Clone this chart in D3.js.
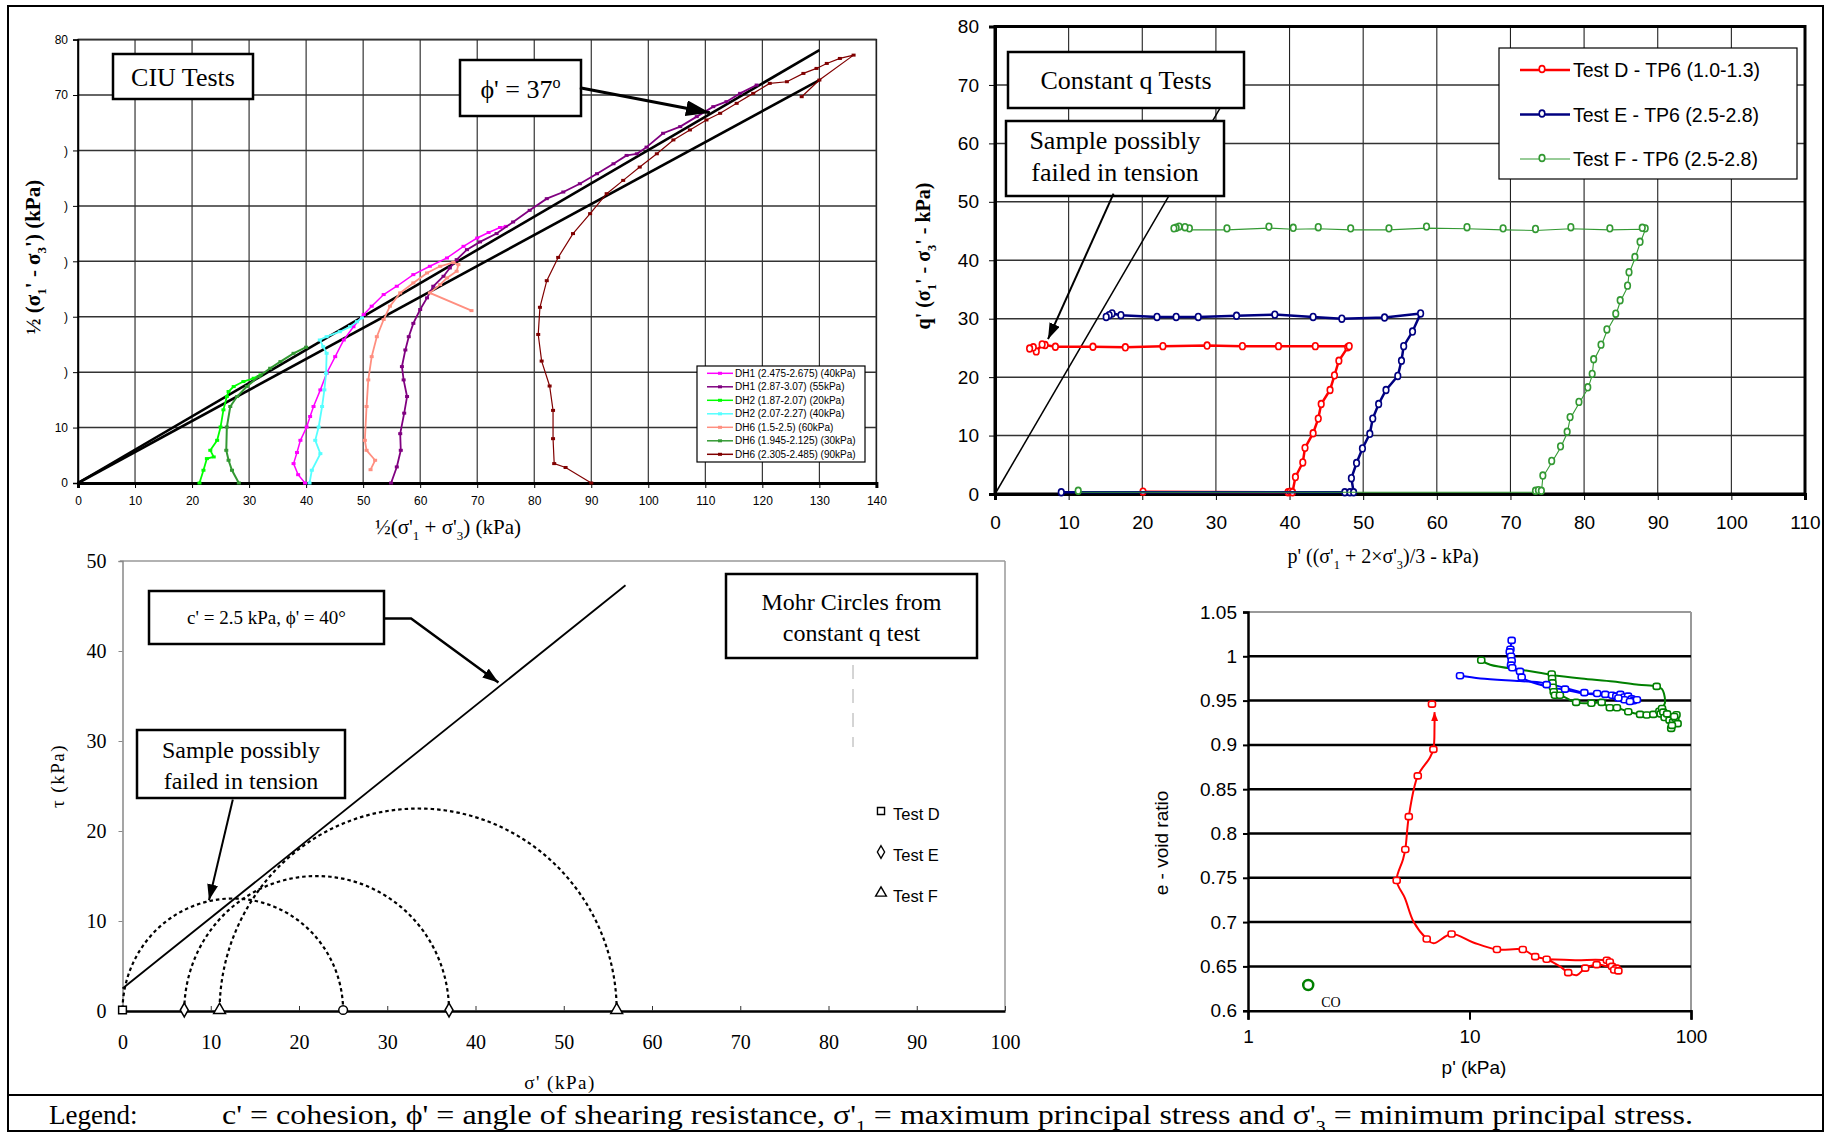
<!DOCTYPE html>
<html><head><meta charset="utf-8">
<script src="https://cdn.jsdelivr.net/npm/d3@7"></script>
<style>body{margin:0;background:#fff}</style>
</head><body>
<svg id="c" width="1830" height="1138"></svg>
<script>
// ===================== DATA =====================
// Panel A: CIU tests (p = ½(σ'1+σ'3), q = ½(σ'1-σ'3))
const ciuXTicks = [0,10,20,30,40,50,60,70,80,90,100,110,120,130,140];
const ciuYTicks = [0,10,20,30,40,50,60,70,80];
const ciuYLabels = ["0","10",")",")",")",")",")","70","80"];
const ciuNames = ["DH1 (2.475-2.675) (40kPa)","DH1 (2.87-3.07) (55kPa)","DH2 (1.87-2.07) (20kPa)","DH2 (2.07-2.27) (40kPa)","DH6 (1.5-2.5) (60kPa)","DH6 (1.945-2.125) (30kPa)","DH6 (2.305-2.485) (90kPa)"];
const dh1_40 = [[39.8,0],[38.6,1.5],[37.8,3.5],[38.4,5.5],[39,7.7],[40.1,10.1],[40.7,12],[41.3,13.8],[42.5,16.8],[43.6,19.8],[45.1,22.8],[46.6,25.8],[48.3,28.2],[50.1,30.4],[51.5,31.9],[53.6,34],[55.9,35.5],[58.8,37.6],[61.7,39.1],[64.7,40.6],[67.6,42.7],[70,44.2],[72,45.2],[74,46.1],[75,46.3]];
const dh1_55 = [[54.9,0],[55.9,2.9],[56.6,5.9],[56.5,8.9],[57.2,12.6],[57.7,15.6],[57.1,18.6],[56.8,21],[57.4,24],[58,26.4],[58.8,28.8],[60,31.3],[61.2,33.4],[62.3,35.5],[64.1,37.3],[65.2,38.8],[66.4,40.3],[68.2,42.1],[70.5,43.5],[73.4,45],[76.3,47.1],[79.2,49.2],[82.2,51.3],[85.1,52.5],[88,54],[91,55.8],[93.9,57.6],[96.2,59.1],[98,59.4],[99.7,60.6],[102.6,63.1],[105.6,64.3],[108.5,66.1],[111.4,67.9],[113.7,68.8],[116.1,70.3],[119,71.8]];
const dh2_20 = [[21.3,0],[22,2.3],[22.6,4.4],[23.8,4.7],[23.2,5.9],[24.4,7.7],[25,10.1],[25.5,13.2],[26.1,15.6],[26.4,16.5],[27.3,17.4],[29,18.3],[30.8,18.9],[32,19.5]];
const dh2_40 = [[40.6,0],[41,2.3],[42.5,5.3],[41.6,7.7],[42.2,10.1],[42.8,13.8],[43.2,16.8],[43.5,19.8],[43.6,23.4],[43,24.6],[42.4,25.8],[43.6,26.4],[45.9,27.3],[47.7,28.2],[48.9,29.1],[49.8,29.8]];
const dh6_60 = [[51.3,2.4],[52.1,4.1],[50.6,5.9],[50.3,7.7],[50.6,13.8],[50.9,18.6],[51.5,22.8],[52.4,26.4],[53.6,29.5],[54.7,31.9],[56.5,34.3],[58.8,36.1],[61.2,37.9],[63.5,39.1],[65.8,39.8],[66.7,39.4],[66.4,38.2],[64.7,37],[63.5,35.8],[61.7,34.3],[69,31.1]];
const dh6_30 = [[28.2,0],[27,2.3],[26.4,4.1],[26,5.9],[26.1,10.1],[26.7,13.8],[27.9,15.6],[29.6,17.4],[31.7,19.2],[33.7,20.7],[35.5,21.9],[37.8,23.4],[40,24.5]];
const dh6_90 = [[90,0],[85.5,2.8],[83.5,3.5],[83.3,8],[83.3,13.1],[82.7,17.5],[81.3,22],[80.7,26.8],[81,31.7],[82.2,36.5],[84.2,40.7],[86.8,45],[89.8,48.6],[92.7,52.2],[95.6,54.6],[98.5,57],[101.5,59.4],[104.4,61.9],[107.3,63.7],[110.2,65.5],[112.6,66.7],[115.5,68.5],[118.4,70.3],[121.3,72.1],[124.3,72.4],[127.2,73.9],[129.5,74.8],[131.3,75.7],[133.6,76.6],[136,77.2],[130,72.7],[126.9,69.7]];
const ciuUpperLine = [[0,0],[130,78.1]];
const ciuLowerLine = [[0,0],[130,72.7]];
const ciuArrow = [[88,71.3],[110.8,66.8]];

// Panel B: constant q tests (p', q')
const cqXTicks = [0,10,20,30,40,50,60,70,80,90,100,110];
const cqYTicks = [0,10,20,30,40,50,60,70,80];
const cqNames = ["Test D - TP6 (1.0-1.3)","Test E - TP6 (2.5-2.8)","Test F - TP6 (2.5-2.8)"];
const testD_q = [[20.1,0.4],[39.8,0.3],[40.1,0.4],[40.4,0.3],[40.8,2.9],[41.8,5.4],[42.1,7.9],[43.2,10.4],[43.9,12.9],[44.3,15.4],[45.5,17.8],[46.1,20.3],[46.7,22.8],[47.9,25.1],[48.1,25.3],[43.5,25.3],[38.5,25.3],[33.6,25.3],[28.8,25.4],[22.8,25.3],[17.7,25.1],[13.3,25.2],[8.2,25.2],[6.8,25.5],[6.4,25.6],[5.6,24.4],[5.2,25.1],[4.7,24.9]];
const testE_q = [[9,0.3],[47.5,0.3],[48.2,0.3],[48.7,0.3],[48.4,2.7],[49.1,5.3],[49.9,7.8],[50.9,10.3],[51.3,12.9],[52.1,15.4],[53.1,17.8],[54.7,20.2],[55.2,22.8],[55.5,25.3],[56.7,27.8],[57.8,30.9],[52.9,30.2],[47.1,30],[43.2,30.3],[38,30.7],[32.8,30.5],[27.6,30.3],[24.6,30.3],[22,30.3],[17.1,30.6],[15.9,30.9],[15.5,30.6],[15.1,30.3]];
const testF_q = [[11.3,0.3],[73.4,0.3],[73.8,0.4],[74.2,0.3],[74.4,2.9],[75.6,5.4],[76.8,7.9],[77.7,10.4],[78.1,12.9],[79.3,15.5],[80.5,18],[81.1,20.3],[81.3,22.8],[82.3,25.3],[83.1,27.9],[84.3,30.6],[84.9,32.9],[85.9,35.4],[86.1,37.7],[86.9,40.3],[87.6,42.9],[88.3,45.2],[87.9,45.3],[83.5,45.2],[78.2,45.4],[73.4,45.1],[69,45.2],[64.1,45.4],[58.6,45.5],[53.5,45.2],[48.3,45.2],[43.9,45.4],[40.5,45.3],[37.2,45.5],[31.5,45.2],[26.4,45.2],[25.8,45.4],[25,45.5],[24.6,45.3],[24.3,45.2]];
const cqTensionLine = [[0,0],[33,71.3]];
const cqArrow = [[16.1,51.4],[7.2,26.5]];

// Panel C: Mohr circles (σ', τ)
const mohrXTicks = [0,10,20,30,40,50,60,70,80,90,100];
const mohrYTicks = [0,10,20,30,40,50];
const mohrTests = ["Test D","Test E","Test F"];
const mohrSigma3 = [0,7,11];
const mohrSigma1 = [25,37,56];
const mohrEnvelope = [[0,2.5],[57,47.3]];
const mohrArrowC = [[29.7,43.6],[32.7,43.6],[42.6,36.5]];
const mohrArrowT = [[12.5,23.5],[9.8,12.3]];

// Panel D: e - log p'
const pTicks = [1,10,100];
const eTicks = [0.6,0.65,0.7,0.75,0.8,0.85,0.9,0.95,1,1.05];
const eLabels = ["0.6","0.65","0.7","0.75","0.8","0.85","0.9","0.95","1","1.05"];
const testD_e = [[22.3,0.658],[30,0.657],[42.4,0.656],[46.5,0.647],[43,0.649],[41.7,0.650],[37.5,0.652],[33.3,0.648],[30.5,0.640],[27.9,0.643],[25.6,0.650],[22.3,0.658],[19.8,0.661],[17.4,0.669],[13.3,0.669],[10.4,0.677],[8.3,0.6865],[6.87,0.676],[6.41,0.681],[5.6,0.70],[5.11,0.727],[4.69,0.747],[5.0,0.77],[5.13,0.782],[5.32,0.819],[5.84,0.865],[6.6,0.885],[6.87,0.895],[6.95,0.92],[6.95,0.937]];
const testD_eMarks = [[6.77,0.946],[6.87,0.895],[5.84,0.865],[5.32,0.819],[5.13,0.782],[4.69,0.747],[6.41,0.681],[8.3,0.6865],[13.3,0.669],[17.4,0.669],[19.8,0.661],[22.3,0.658],[27.9,0.643],[33.3,0.648],[37.5,0.652],[41.7,0.657],[43,0.655],[44,0.650],[46,0.648],[45,0.646],[47,0.645]];
const testE_eCons = [[9.06,0.978],[11.2,0.975],[16.9,0.972],[21.5,0.970],[27.4,0.964],[33.8,0.958],[41.6,0.956],[49.5,0.955],[57.9,0.951]];
const testE_eShear = [[57,0.951],[53.2,0.9545],[48,0.957],[43.2,0.956],[37.7,0.958],[32.8,0.958],[27.2,0.962],[22.3,0.966],[17.2,0.9765],[16.9,0.983],[15.7,0.985],[15.4,0.9905],[15.3,1.0],[15.3,1.008],[15.5,1.018]];
const testE_eMarks = [[9.06,0.978],[15.5,1.018],[15.3,1.008],[15.2,1.005],[15.4,1.0],[15.5,0.995],[15.4,0.99],[15.6,0.987],[16.9,0.983],[17.2,0.9765],[22.3,0.968],[27,0.963],[33,0.959],[37.7,0.958],[41,0.957],[44,0.956],[46,0.955],[48,0.957],[50,0.954],[52,0.955],[54,0.952],[55,0.950],[57,0.951],[50,0.951],[53,0.949],[47,0.953]];
const testF_eCons = [[11.3,0.9955],[12.4,0.9905],[18,0.984],[23.5,0.979],[32,0.975],[44.6,0.9716],[58,0.968],[70,0.966],[74,0.963],[75.5,0.958],[76.2,0.947],[73.7,0.941]];
const testF_eShear = [[86,0.925],[83.2,0.926],[79,0.932],[72.4,0.934],[67.6,0.9345],[63.1,0.9337],[58.9,0.9345],[52.1,0.9375],[46.3,0.942],[43,0.942],[39.5,0.948],[35.5,0.947],[30.3,0.948],[25.6,0.956],[24.3,0.956],[23.8,0.96],[23.6,0.97],[23.5,0.98]];
const testF_eMarks = [[11.3,0.9955],[70,0.966],[23.5,0.980],[23.6,0.975],[23.7,0.97],[23.8,0.965],[24,0.96],[24.3,0.956],[25.6,0.956],[30.3,0.948],[35.5,0.947],[39.5,0.948],[43,0.942],[46.3,0.942],[52.1,0.9375],[58.9,0.9345],[63.1,0.9337],[67.6,0.9345],[72,0.938],[73,0.935],[74,0.941],[75,0.937],[76,0.931],[78,0.935],[80,0.928],[81.4,0.9186],[83,0.926],[85,0.930],[86,0.934],[87,0.924],[82,0.922],[84,0.932]];
const coPoint = [[1.87,0.629]];

// ===================== DRAWING =====================
const SERIF = '"Liberation Serif","Times New Roman",serif';
const SANS = '"Liberation Sans",Arial,sans-serif';
const svg = d3.select('#c');
const defs = svg.append('defs');
function arrowDef(id, len, wid, color){
  defs.append('marker').attr('id',id).attr('markerUnits','userSpaceOnUse')
    .attr('viewBox',`0 0 ${len} ${wid}`).attr('refX',len).attr('refY',wid/2)
    .attr('markerWidth',len).attr('markerHeight',wid).attr('orient','auto')
    .append('path').attr('d',`M0,0L${len},${wid/2}L0,${wid}Z`).attr('fill',color);
}
arrowDef('ahBig',24,16,'#000');
arrowDef('ahMid',16,11,'#000');
arrowDef('ahRed',9,7,'#f00');

// parts: strings, {s:..} subscript, {p:..} superscript
function rich(sel, parts, fs){
  let shift = 0;
  parts.forEach(p=>{
    const isObj = typeof p === 'object';
    const t = sel.append('tspan').text(isObj ? (p.s ?? p.p) : p);
    if(isObj){
      const d = p.s !== undefined ? fs*0.28 : -fs*0.38;
      t.attr('font-size',fs*0.62).attr('dy',d - shift); shift = d;
    } else if(shift){ t.attr('dy',-shift); shift = 0; }
  });
  return sel;
}
function boxText(g, x, y, w, h, lines, fs, baselines){
  g.append('rect').attr('x',x).attr('y',y).attr('width',w).attr('height',h)
    .attr('fill','#fff').attr('stroke','#000').attr('stroke-width',2.5);
  lines.forEach((l,i)=>{
    const t = g.append('text').attr('x',x+w/2).attr('y',baselines[i]).attr('text-anchor','middle')
      .attr('font-family',SERIF).attr('font-size',fs);
    if(Array.isArray(l)) rich(t,l,fs); else t.text(l);
  });
}

// Outer frame
svg.append('rect').attr('x',8).attr('y',6).attr('width',1815).attr('height',1125)
  .attr('fill','none').attr('stroke','#000').attr('stroke-width',2);
svg.append('line').attr('x1',8).attr('x2',1823).attr('y1',1095).attr('y2',1095).attr('stroke','#000').attr('stroke-width',2);

// ---------- Panel A ----------
const xA = d3.scaleLinear([0,140],[78,876.4]);
const yA = d3.scaleLinear([0,80],[483,39.6]);
const gA = svg.append('g');
gA.append('rect').attr('x',xA(0)).attr('y',yA(80)).attr('width',xA(140)-xA(0)).attr('height',yA(0)-yA(80))
  .attr('fill','#fff').attr('stroke','#000').attr('stroke-width',1.5);
gA.selectAll('.gv').data(ciuXTicks).join('line').attr('x1',d=>xA(d)).attr('x2',d=>xA(d))
  .attr('y1',yA(0)).attr('y2',yA(80)).attr('stroke','#222').attr('stroke-width',1.1);
gA.selectAll('.gh').data(ciuYTicks).join('line').attr('y1',d=>yA(d)).attr('y2',d=>yA(d))
  .attr('x1',xA(0)).attr('x2',xA(140)).attr('stroke','#333').attr('stroke-width',1.5);
const axAx = gA.append('g').attr('transform',`translate(0,${yA(0)})`)
  .call(d3.axisBottom(xA).tickValues(ciuXTicks).tickSize(5).tickPadding(8));
const axAy = gA.append('g').attr('transform',`translate(${xA(0)},0)`)
  .call(d3.axisLeft(yA).tickValues(ciuYTicks).tickSize(5).tickPadding(5).tickFormat((d,i)=>ciuYLabels[i]));
[axAx,axAy].forEach(a=>{a.selectAll('text').attr('font-family',SANS).attr('font-size',12).attr('fill','#000');
  a.select('.domain').attr('stroke-width',1.5);});
axAx.select('.domain').attr('stroke-width',3);

const lineA = d3.line().x(d=>xA(d[0])).y(d=>yA(d[1]));
gA.append('path').datum(ciuUpperLine).attr('d',lineA).attr('stroke','#000').attr('stroke-width',2.6).attr('fill','none');
gA.append('path').datum(ciuLowerLine).attr('d',lineA).attr('stroke','#000').attr('stroke-width',2.6).attr('fill','none');
const ciuData = [dh1_40, dh1_55, dh2_20, dh2_40, dh6_60, dh6_30, dh6_90];
const ciuColors = ['#ff00ff','#800080','#00ff00','#55ffff','#ff8f80','#339933','#800000'];
const ciuWidths = [1.5,1.8,1.8,1.8,1.8,2,1.2];
ciuData.forEach((s,i)=>{
  gA.append('path').datum(s).attr('d',lineA).attr('fill','none').attr('stroke',ciuColors[i]).attr('stroke-width',ciuWidths[i]);
  gA.selectAll(null).data(s).join('rect').attr('x',d=>xA(d[0])-2).attr('y',d=>yA(d[1])-1.5)
    .attr('width',4).attr('height',3).attr('fill',ciuColors[i]);
});
// legend A
const lgA = gA.append('g');
lgA.append('rect').attr('x',697).attr('y',366).attr('width',168).attr('height',96).attr('fill','#fff').attr('stroke','#000').attr('stroke-width',1.2);
ciuNames.forEach((n,i)=>{
  const yy = 373.3 + i*13.5;
  lgA.append('line').attr('x1',707).attr('x2',733).attr('y1',yy).attr('y2',yy).attr('stroke',ciuColors[i]).attr('stroke-width',1.5);
  lgA.append('rect').attr('x',718).attr('y',yy-1.5).attr('width',4).attr('height',3).attr('fill',ciuColors[i]);
  lgA.append('text').attr('x',735).attr('y',yy+3.6).attr('font-family',SANS).attr('font-size',10).text(n);
});
boxText(gA,113,54,140,45,['CIU Tests'],26,[86]);
boxText(gA,460,60,121,56,[['ϕ\' = 37',{p:'o'}]],26,[98]);
gA.append('line').attr('x1',xA(ciuArrow[0][0])).attr('y1',yA(ciuArrow[0][1])).attr('x2',xA(ciuArrow[1][0])).attr('y2',yA(ciuArrow[1][1]))
  .attr('stroke','#000').attr('stroke-width',3).attr('marker-end','url(#ahBig)');
// titles
rich(gA.append('text').attr('transform','translate(40,257) rotate(-90)').attr('text-anchor','middle')
  .attr('font-family',SERIF).attr('font-weight','bold').attr('font-size',21),
  ['½ (σ',{s:'1'},'\' - σ',{s:'3'},'\') (kPa)'],21);
rich(gA.append('text').attr('x',448).attr('y',534).attr('text-anchor','middle').attr('font-family',SERIF).attr('font-size',21),
  ['½(σ\'',{s:'1'},' + σ\'',{s:'3'},') (kPa)'],21);

// ---------- Panel B ----------
const xB = d3.scaleLinear([0,110],[995,1805]);
const yB = d3.scaleLinear([0,80],[494,26.5]);
const gB = svg.append('g');
gB.append('rect').attr('x',xB(0)).attr('y',yB(80)).attr('width',xB(110)-xB(0)).attr('height',yB(0)-yB(80)).attr('fill','#fff');
gB.selectAll('.gv').data(cqXTicks).join('line').attr('x1',d=>xB(d)).attr('x2',d=>xB(d))
  .attr('y1',yB(0)).attr('y2',yB(80)).attr('stroke','#222').attr('stroke-width',1.1);
gB.selectAll('.gh').data(cqYTicks).join('line').attr('y1',d=>yB(d)).attr('y2',d=>yB(d))
  .attr('x1',xB(0)).attr('x2',xB(110)).attr('stroke','#333').attr('stroke-width',1.5);
gB.append('rect').attr('x',xB(0)).attr('y',yB(80)).attr('width',xB(110)-xB(0)).attr('height',yB(0)-yB(80))
  .attr('fill','none').attr('stroke','#000').attr('stroke-width',3);
const axBx = gB.append('g').attr('transform',`translate(0,${yB(0)})`)
  .call(d3.axisBottom(xB).tickValues(cqXTicks).tickSize(6).tickPadding(16));
const axBy = gB.append('g').attr('transform',`translate(${xB(0)},0)`)
  .call(d3.axisLeft(yB).tickValues(cqYTicks).tickSize(6).tickPadding(10));
[axBx,axBy].forEach(a=>{a.selectAll('text').attr('font-family',SANS).attr('font-size',19).attr('fill','#000');
  a.select('.domain').attr('stroke-width',3);});
const lineB = d3.line().x(d=>xB(d[0])).y(d=>yB(d[1]));
gB.append('path').datum(cqTensionLine).attr('d',lineB).attr('stroke','#000').attr('stroke-width',1.5).attr('fill','none');
const cqData = [testD_q, testE_q, testF_q];
const cqColors = ['#ff0000','#000080','#339933'];
const cqWidths = [2.5,2.5,1.1];
cqData.forEach((s,i)=>{
  gB.append('path').datum(s).attr('d',lineB).attr('fill','none').attr('stroke',cqColors[i]).attr('stroke-width',cqWidths[i]);
  gB.selectAll(null).data(s).join('ellipse').attr('cx',d=>xB(d[0])).attr('cy',d=>yB(d[1])+ (i==2?-1.5:0))
    .attr('rx',2.8).attr('ry',3.4).attr('fill','#fff').attr('stroke',cqColors[i]).attr('stroke-width',1.6);
});
// legend B
const lgB = gB.append('g');
lgB.append('rect').attr('x',1499).attr('y',48).attr('width',298).attr('height',131).attr('fill','#fff').attr('stroke','#000').attr('stroke-width',1.2);
cqNames.forEach((n,i)=>{
  const yy = 70 + i*44.5;
  lgB.append('line').attr('x1',1520).attr('x2',1570).attr('y1',yy).attr('y2',yy).attr('stroke',cqColors[i]).attr('stroke-width',cqWidths[i]);
  lgB.append('ellipse').attr('cx',1542).attr('cy',yy-1).attr('rx',2.8).attr('ry',3.4).attr('fill','#fff').attr('stroke',cqColors[i]).attr('stroke-width',1.6);
  lgB.append('text').attr('x',1573).attr('y',yy+7).attr('font-family',SANS).attr('font-size',19.5).text(n);
});
boxText(gB,1008,52,236,56,['Constant q Tests'],26,[89]);
boxText(gB,1006,121,218,75,['Sample possibly','failed in tension'],26,[149,181]);
gB.append('line').attr('x1',xB(cqArrow[0][0])).attr('y1',yB(cqArrow[0][1])).attr('x2',xB(cqArrow[1][0])).attr('y2',yB(cqArrow[1][1]))
  .attr('stroke','#000').attr('stroke-width',2).attr('marker-end','url(#ahMid)');
rich(gB.append('text').attr('transform','translate(930,256) rotate(-90)').attr('text-anchor','middle')
  .attr('font-family',SERIF).attr('font-weight','bold').attr('font-size',20),
  ['q\' (σ',{s:'1'},'\' - σ',{s:'3'},'\' - kPa)'],20);
rich(gB.append('text').attr('x',1383).attr('y',563).attr('text-anchor','middle').attr('font-family',SERIF).attr('font-size',20),
  ['p\' ((σ\'',{s:'1'},' + 2×σ\'',{s:'3'},')/3 - kPa)'],20);

// ---------- Panel C ----------
const xC = d3.scaleLinear([0,100],[122.5,1005]);
const yC = d3.scaleLinear([0,50],[1011,561]);
const gC = svg.append('g');
gC.append('line').attr('x1',120).attr('x2',xC(100)).attr('y1',yC(50)).attr('y2',yC(50)).attr('stroke','#999').attr('stroke-width',1.5);
gC.append('line').attr('x1',xC(100)).attr('x2',xC(100)).attr('y1',yC(50)).attr('y2',yC(0)).attr('stroke','#999').attr('stroke-width',1.5);
gC.append('line').attr('x1',853).attr('x2',853).attr('y1',665).attr('y2',747).attr('stroke','#aaa').attr('stroke-width',1).attr('stroke-dasharray','14,10');
const axCx = gC.append('g').attr('transform',`translate(0,${yC(0)})`)
  .call(d3.axisBottom(xC).tickValues(mohrXTicks).tickSize(0).tickPadding(24));
axCx.selectAll('.tick line').attr('y2',-5).attr('stroke','#333');
const axCy = gC.append('g').attr('transform',`translate(${xC(0)},0)`)
  .call(d3.axisLeft(yC).tickValues(mohrYTicks).tickSize(4).tickPadding(12));
axCx.selectAll('text').attr('font-family',SERIF).attr('font-size',20).attr('fill','#000');
axCy.selectAll('text').attr('font-family',SERIF).attr('font-size',20).attr('fill','#000');
axCx.select('.domain').attr('stroke-width',2.5);
axCy.select('.domain').attr('stroke','#888').attr('stroke-width',1.5);
axCy.selectAll('.tick line').attr('stroke','#888');
const lineC = d3.line().x(d=>xC(d[0])).y(d=>yC(d[1]));
gC.append('path').datum(mohrEnvelope).attr('d',lineC).attr('stroke','#000').attr('stroke-width',1.8).attr('fill','none');
mohrSigma3.forEach((s3,i)=>{
  const c = (s3+mohrSigma1[i])/2, r = (mohrSigma1[i]-s3)/2;
  const pts = d3.range(0,181,2).map(a=>[c + r*Math.cos(a*Math.PI/180), r*Math.sin(a*Math.PI/180)]);
  gC.append('path').datum(pts).attr('d',lineC).attr('fill','none').attr('stroke','#000').attr('stroke-width',2.2).attr('stroke-dasharray','3.5,3');
});
const sym = [d3.symbolSquare, d3.symbolDiamond, d3.symbolTriangle];
mohrSigma3.forEach((s3,i)=>{
  [s3, mohrSigma1[i]].forEach((v,j)=>{
    const type = (i===0 && j===1) ? d3.symbolCircle : sym[i];
    gC.append('path').attr('d',d3.symbol(type, i===1?55:60)()).attr('transform',`translate(${xC(v)},${yC(0)-1})`)
      .attr('fill','#fff').attr('stroke','#000').attr('stroke-width',1.5);
  });
});
mohrTests.forEach((t,i)=>{
  const yy = 814 + i*41;
  gC.append('path').attr('d',d3.symbol(sym[i], i===1?45:50)()).attr('transform',`translate(881,${yy-3})`)
    .attr('fill','#fff').attr('stroke','#000').attr('stroke-width',1.4);
  gC.append('text').attr('x',893).attr('y',yy+6).attr('font-family',SANS).attr('font-size',16.5).text(t);
});
boxText(gC,149,591,235,53,['c\' = 2.5 kPa, ϕ\' = 40°'],19,[624]);
boxText(gC,137,730,208,68,['Sample possibly','failed in tension'],24,[758,789]);
boxText(gC,726,574,251,84,['Mohr Circles from','constant q test'],24,[610,641]);
gC.append('path').datum(mohrArrowC).attr('d',lineC).attr('fill','none').attr('stroke','#000').attr('stroke-width',2.5).attr('marker-end','url(#ahMid)');
gC.append('path').datum(mohrArrowT).attr('d',lineC).attr('fill','none').attr('stroke','#000').attr('stroke-width',2).attr('marker-end','url(#ahMid)');
gC.append('text').attr('transform','translate(64,776) rotate(-90)').attr('text-anchor','middle')
  .attr('font-family',SERIF).attr('font-size',19).attr('letter-spacing',1.5).text('τ  (kPa)');
gC.append('text').attr('x',560).attr('y',1089).attr('text-anchor','middle')
  .attr('font-family',SERIF).attr('font-size',19).attr('letter-spacing',1.5).text('σ\'  (kPa)');

// ---------- Panel D ----------
const xD = d3.scaleLog([1,100],[1248,1691]);
const yD = d3.scaleLinear([0.6,1.05],[1010.7,612]);
const gD = svg.append('g');
gD.append('line').attr('x1',xD(1)).attr('x2',xD(100)).attr('y1',yD(1.05)).attr('y2',yD(1.05)).attr('stroke','#999').attr('stroke-width',2);
gD.append('line').attr('x1',xD(100)).attr('x2',xD(100)).attr('y1',yD(1.05)).attr('y2',yD(0.6)).attr('stroke','#999').attr('stroke-width',2);
gD.selectAll('.gh').data(eTicks.filter(d=>d>0.61 && d<1.04)).join('line').attr('y1',d=>yD(d)).attr('y2',d=>yD(d))
  .attr('x1',xD(1)).attr('x2',xD(100)).attr('stroke','#000').attr('stroke-width',2.5);
const axDx = gD.append('g').attr('transform',`translate(0,${yD(0.6)})`)
  .call(d3.axisBottom(xD).tickValues(pTicks).tickSize(9).tickPadding(10).tickFormat(d3.format('d')));
const axDy = gD.append('g').attr('transform',`translate(${xD(1)},0)`)
  .call(d3.axisLeft(yD).tickValues(eTicks).tickSize(5).tickPadding(6).tickFormat((d,i)=>eLabels[i]));
[axDx,axDy].forEach(a=>{a.selectAll('text').attr('font-family',SANS).attr('font-size',19).attr('fill','#000');
  a.select('.domain').attr('stroke-width',2.5); a.selectAll('.tick line').attr('stroke-width',2);});
const lineD = d3.line().x(d=>xD(d[0])).y(d=>yD(d[1])).curve(d3.curveCatmullRom.alpha(0.5));
function markD(arr,color){
  gD.selectAll(null).data(arr).join('rect').attr('x',d=>xD(d[0])-3.5).attr('y',d=>yD(d[1])-3)
    .attr('width',7).attr('height',6).attr('rx',2.2).attr('fill','#fff').attr('stroke',color).attr('stroke-width',1.6);
}
gD.append('path').datum(testE_eCons).attr('d',lineD).attr('fill','none').attr('stroke','#0000ff').attr('stroke-width',2);
gD.append('path').datum(testE_eShear).attr('d',lineD).attr('fill','none').attr('stroke','#0000ff').attr('stroke-width',2);
gD.append('path').datum(testF_eCons).attr('d',lineD).attr('fill','none').attr('stroke','#008000').attr('stroke-width',2);
gD.append('path').datum(testF_eShear).attr('d',lineD).attr('fill','none').attr('stroke','#008000').attr('stroke-width',2);
markD(testF_eMarks,'#008000');
markD(testE_eMarks,'#0000ff');
gD.append('path').datum(testD_e).attr('d',lineD).attr('fill','none').attr('stroke','#ff0000').attr('stroke-width',2).attr('marker-end','url(#ahRed)');
markD(testD_eMarks,'#ff0000');
gD.selectAll(null).data(coPoint).join('circle').attr('cx',d=>xD(d[0])).attr('cy',d=>yD(d[1])).attr('r',5)
  .attr('fill','none').attr('stroke','#008000').attr('stroke-width',2.5);
gD.append('text').attr('x',xD(coPoint[0][0])+13).attr('y',yD(coPoint[0][1])+22).attr('font-family',SERIF).attr('font-size',14).text('CO');
gD.append('text').attr('transform','translate(1168,843) rotate(-90)').attr('text-anchor','middle')
  .attr('font-family',SANS).attr('font-size',19).text('e - void ratio');
gD.append('text').attr('x',1474).attr('y',1074).attr('text-anchor','middle')
  .attr('font-family',SANS).attr('font-size',19).text('p\' (kPa)');

// ---------- Footer ----------
svg.append('text').attr('x',49).attr('y',1124).attr('font-family',SERIF).attr('font-size',27).text('Legend:');
rich(svg.append('text').attr('x',222).attr('y',1124).attr('font-family',SERIF).attr('font-size',27)
  .attr('textLength',1471).attr('lengthAdjust','spacingAndGlyphs'),
  ['c\' = cohesion, ϕ\' = angle of shearing resistance, σ\'',{s:'1'},' = maximum principal stress and σ\'',{s:'3'},' = minimum principal stress.'],27);
</script>
</body></html>
